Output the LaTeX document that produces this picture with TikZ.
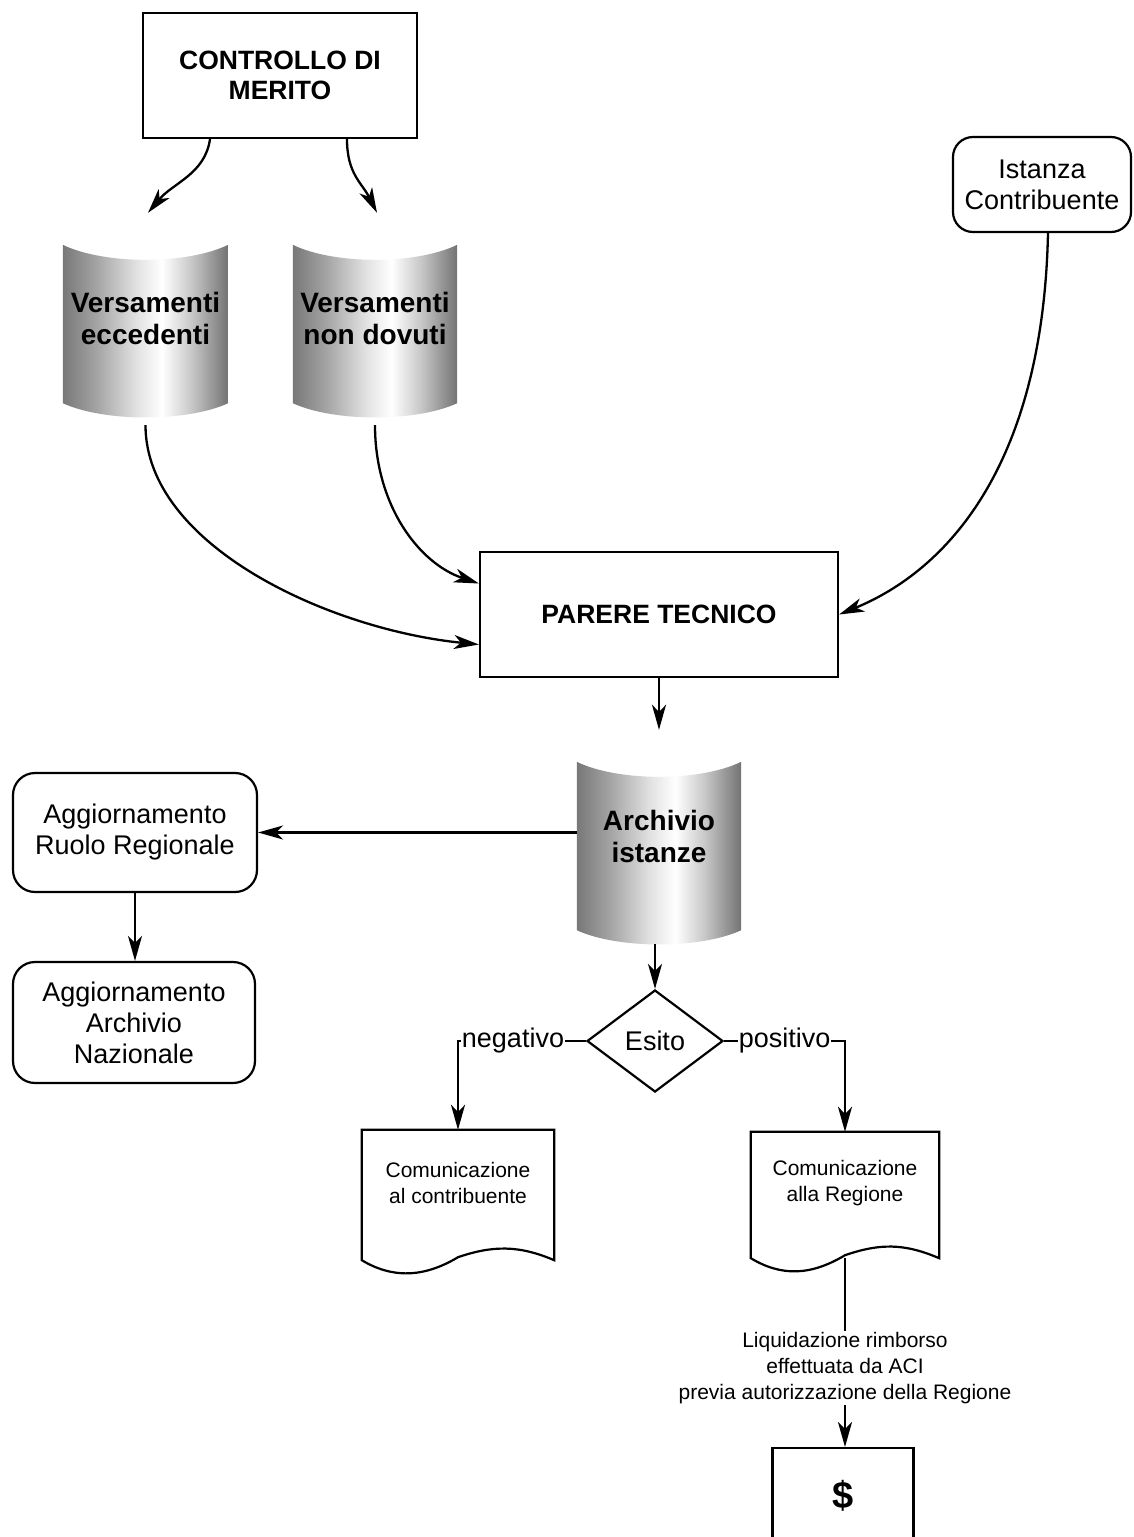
\documentclass[tikz,border=0pt]{standalone}
\usepackage{fontspec}
\setmainfont{Liberation Sans}
\usetikzlibrary{shapes.geometric,arrows.meta,calc}
\pgfdeclarehorizontalshading{cylshade}{100bp}{color(0bp)=(black); color(5bp)=(black!95); color(12bp)=(black!78); color(22bp)=(black!58); color(35bp)=(black!36); color(47bp)=(black!12); color(55bp)=(white); color(64bp)=(black!22); color(74bp)=(black!52); color(84bp)=(black!78); color(92bp)=(black!92); color(100bp)=(black)}
\newcommand\fbold{\fontsize{26.5}{30}\selectfont\bfseries}
\newcommand\fmid{\fontsize{27}{31}\selectfont}
\newcommand\fcyl{\fontsize{28}{32}\selectfont\bfseries}
\newcommand\fdoc{\fontsize{21}{26}\selectfont}
\newcommand\fdollar{\fontsize{38}{40}\selectfont\bfseries}
\newcommand\cylbody[1]{\shade[shading=cylshade] (#1.north west) .. controls ($(#1.north west)!0.25!(#1.north east)+(0,20)$) and ($(#1.north west)!0.75!(#1.north east)+(0,20)$) .. (#1.north east) -- (#1.south east) .. controls ($(#1.south west)!0.75!(#1.south east)+(0,19)$) and ($(#1.south west)!0.25!(#1.south east)+(0,19)$) .. (#1.south west) -- cycle;}
\newcommand\docshape[1]{\draw[line width=2.2pt, fill=white] (#1.north west) -- (#1.north east) -- (#1.south east) .. controls ($(#1.south east)+(-35,-15)$) and ($(#1.south)+(35,-15)$) .. ($(#1.south)+(0,-3)$) .. controls ($(#1.south)+(-35,18)$) and ($(#1.south west)+(30,18)$) .. (#1.south west) -- cycle;}
\begin{document}
\begin{tikzpicture}[x=1pt,y=-1pt,
  box/.style={draw, line width=2.2pt, rectangle, align=center, inner sep=0pt},
  rbox/.style={box, rounded corners=22pt},
  body/.style={rectangle, inner sep=0pt, draw=none},
  cyltxt/.style={font=\fcyl, align=center, inner sep=0pt},
  doctxt/.style={font=\fdoc, align=center, inner sep=0pt},
  arr/.style={draw, line width=2.3pt, -{Stealth[length=25pt,width=14pt,inset=7pt]}},
  lbl/.style={fill=white, inner sep=1pt, font=\fmid},
]
\useasboundingbox (0,0) rectangle (1133,1537);
\clip (0,0) rectangle (1133,1537);

% boxes
\node[box, minimum width=274pt, minimum height=125pt, font=\fbold] (ctrl) at (280,75.5) {CONTROLLO DI\\MERITO};
\node[rbox, minimum width=178pt, minimum height=95pt, font=\fmid, rounded corners=20pt] (ist) at (1042,184.5) {Istanza\\Contribuente};
\node[box, minimum width=358pt, minimum height=125pt, font=\fbold] (pt) at (659,614.5) {PARERE TECNICO};
\node[rbox, minimum width=244pt, minimum height=119pt, font=\fmid] (rr) at (135,832.5) {Aggiornamento\\Ruolo Regionale};
\node[rbox, minimum width=242pt, minimum height=121pt, font=\fmid] (rn) at (134,1022.5) {Aggiornamento\\Archivio\\Nazionale};
\node[draw, diamond, line width=2.2pt, inner sep=0pt, minimum width=136pt, minimum height=102pt, font=\fmid] (es) at (655,1041) {Esito};
\node[box, anchor=north, minimum width=141pt, text height=60pt, text depth=100pt, font=\fdollar] (dol) at (843,1447) {\$};

% cylinders
\node[body, minimum width=165pt, minimum height=158pt] (v1) at (145.5,324) {};
\node[body, minimum width=164pt, minimum height=158pt] (v2) at (375,324) {};
\node[body, minimum width=164pt, minimum height=168pt] (v3) at (659,846) {};
\cylbody{v1}
\cylbody{v2}
\cylbody{v3}
\node[cyltxt] (v1t) at ($(v1.center)+(0,-6)$) {Versamenti\\eccedenti};
\node[cyltxt] (v2t) at ($(v2.center)+(0,-6)$) {Versamenti\\non dovuti};
\node[cyltxt] (v3t) at ($(v3.center)+(0,-10)$) {Archivio\\istanze};

% documents
\node[body, minimum width=192pt, minimum height=130pt] (d1) at (458,1195) {};
\node[body, minimum width=188pt, minimum height=126pt] (d2) at (845,1195) {};
\docshape{d1}
\docshape{d2}
\node[doctxt] (d1t) at ($(d1.center)+(0,-12)$) {Comunicazione\\al contribuente};
\node[doctxt] (d2t) at ($(d2.center)+(0,-12)$) {Comunicazione\\alla Regione};

% connectors
\draw[arr] ([xshift=-70pt]ctrl.south) .. controls +(-5,35) and +(25,-30) .. ([xshift=2.5pt,yshift=32pt]v1.north);
\draw[arr] ([xshift=67pt]ctrl.south) .. controls +(0,35) and +(-15,-30) .. ([xshift=2pt,yshift=32pt]v2.north);
\draw[arr] ([yshift=-22pt]v1.south) .. controls +(0,120) and +(-150,-15) .. ([yshift=-30pt]pt.west);
\draw[arr] ([yshift=-22pt]v2.south) .. controls +(0,80) and +(-60,-20) .. ([yshift=31pt]pt.west);
\draw[arr] ([xshift=6pt]ist.south) .. controls +(-5,230) and +(110,-45) .. (pt.east);
\draw[arr] (pt.south) -- ([yshift=32pt]v3.north);
\draw[arr] (v3.west |- rr.east) -- (rr.east);
\draw[arr] (rr.south) -- (rr.south |- rn.north);
\draw[arr, shorten <=14pt] (es.north |- v3.south) -- (es.north);
\draw[arr] (es.west) -- node[lbl, pos=0.57] (neg) {negativo} (es.west -| d1.north) -- (d1.north);
\draw[arr] (es.east) -- node[lbl, pos=0.5] (posl) {positivo} (es.east -| d2.north) -- (d2.north);
\draw[arr] (d2.south) -- node[fill=white, inner sep=1pt, font=\fdoc, align=center, pos=0.58] (liq) {Liquidazione rimborso\\effettuata da ACI\\previa autorizzazione della Regione} (d2.south |- dol.north);
\end{tikzpicture}
\end{document}
